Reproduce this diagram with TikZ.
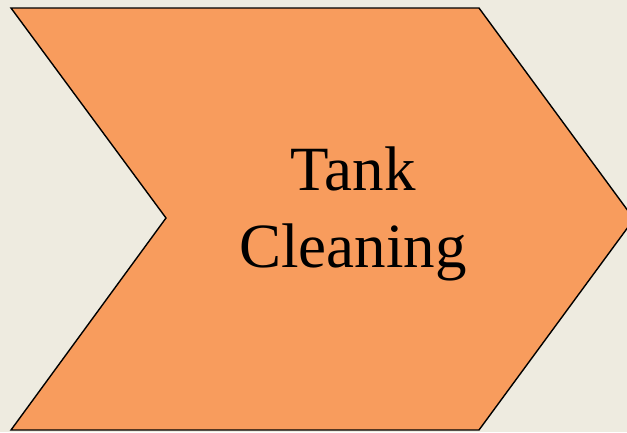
\documentclass[tikz,border=0pt]{standalone}
\usepackage{fontspec}
\setmainfont{Liberation Serif}
\definecolor{bgc}{HTML}{EEEBE0}
\definecolor{chev}{HTML}{F89C5D}
\begin{document}
\begin{tikzpicture}[x=1pt,y=-1pt,
  chevstyle/.style={fill=chev,draw=black,line width=1.4pt,line join=miter},
  lbl/.style={align=center,font=\fontsize{63}{77}\selectfont,inner sep=0pt}]
\fill[bgc] (0,0) rectangle (627,432);
\useasboundingbox (0,0) rectangle (627,432);
\draw[chevstyle] (11,8) -- (479,8) -- (634,219) -- (479,430) -- (11,430) -- (166,218) -- cycle;
\node[lbl] (t) at (353,214) {Tank\\Cleaning};
\end{tikzpicture}
\end{document}
